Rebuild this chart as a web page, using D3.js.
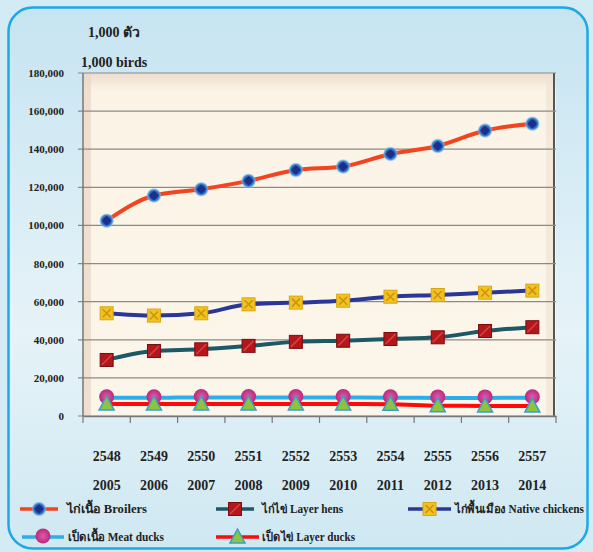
<!DOCTYPE html>
<html>
<head>
<meta charset="utf-8">
<script src="https://d3js.org/d3.v7.min.js"></script>
<style>
  body { margin: 0; background: #ffffff; }
  text { font-family: "Liberation Serif", "DejaVu Serif", serif; font-weight: bold; fill: #222; }
</style>
</head>
<body>
<script>
// data
var thaiYears = ["2548", "2549", "2550", "2551", "2552", "2553", "2554", "2555", "2556", "2557"];
var years = ["2005", "2006", "2007", "2008", "2009", "2010", "2011", "2012", "2013", "2014"];
var broilers = [102500, 115700, 119000, 123400, 129100, 130900, 137500, 141700, 149800, 153400];
var layerHens = [29400, 34100, 35000, 36800, 38900, 39500, 40400, 41300, 44600, 46600];
var nativeChickens = [53900, 52700, 53900, 58600, 59500, 60500, 62600, 63500, 64700, 65800];
var meatDucks = [9600, 9600, 9700, 9700, 9700, 9700, 9600, 9500, 9500, 9600];
var layerDucks = [6300, 6300, 6300, 6300, 6300, 6300, 6200, 5400, 5300, 5200];
var yTicks = [0, 20000, 40000, 60000, 80000, 100000, 120000, 140000, 160000, 180000];

var series = [
  {name: "ไก่เนื้อ   Broilers", values: broilers, color: "#f2441f", marker: "diamond"},
  {name: "ไก่ไข่ Layer hens", values: layerHens, color: "#1d5866", marker: "square"},
  {name: "ไก่พื้นเมือง Native chickens", values: nativeChickens, color: "#2b3796", marker: "ysquare"},
  {name: "เป็ดเนื้อ Meat ducks", values: meatDucks, color: "#2eaee6", marker: "circle"},
  {name: "เป็ดไข่ Layer ducks", values: layerDucks, color: "#ff0a0a", marker: "triangle"}
];

var W = 593, H = 552;
var plot = {left: 83, right: 556, top: 73, bottom: 416};

var svg = d3.select("body").append("svg").attr("width", W).attr("height", H);
var defs = svg.append("defs");

var bg = defs.append("linearGradient").attr("id", "bg").attr("x1", 0).attr("y1", 0).attr("x2", 0).attr("y2", 1);
bg.append("stop").attr("offset", "0").attr("stop-color", "#c6e4f1");
bg.append("stop").attr("offset", "0.6").attr("stop-color", "#e6f3f8");
bg.append("stop").attr("offset", "1").attr("stop-color", "#cfe8f2");

var pg = defs.append("linearGradient").attr("id", "pg").attr("x1", 0).attr("y1", 0).attr("x2", 0).attr("y2", 1);
pg.append("stop").attr("offset", "0").attr("stop-color", "#eddccd");
pg.append("stop").attr("offset", "0.05").attr("stop-color", "#fbf3e6");
pg.append("stop").attr("offset", "1").attr("stop-color", "#fcf6ea");

var glow = defs.append("radialGradient").attr("id", "glow");
glow.append("stop").attr("offset", "0.35").attr("stop-color", "#1a2f8f");
glow.append("stop").attr("offset", "0.75").attr("stop-color", "#3f8fd6");
glow.append("stop").attr("offset", "1").attr("stop-color", "#9fd2f2").attr("stop-opacity", 0.3);

var pink = defs.append("radialGradient").attr("id", "pink");
pink.append("stop").attr("offset", "0").attr("stop-color", "#e05aa8");
pink.append("stop").attr("offset", "1").attr("stop-color", "#b82a7c");

svg.append("rect").attr("width", W).attr("height", H).attr("fill", "#d3ebf5");
svg.append("rect")
    .attr("x", 8.5).attr("y", 7.5).attr("width", 579).attr("height", 541)
    .attr("rx", 24)
    .attr("fill", "url(#bg)")
    .attr("stroke", "#1ea8e6").attr("stroke-width", 2.5);

var x = d3.scaleBand().domain(years).range([plot.left, plot.right]);
var y = d3.scaleLinear().domain([0, 180000]).range([plot.bottom, plot.top]);

// plot area with bevel
svg.append("rect")
    .attr("x", plot.left).attr("y", plot.top)
    .attr("width", plot.right - plot.left).attr("height", plot.bottom - plot.top)
    .attr("fill", "url(#pg)");
svg.append("rect")
    .attr("x", plot.left).attr("y", plot.top)
    .attr("width", 8).attr("height", plot.bottom - plot.top)
    .attr("fill", "#e9d6c4").attr("opacity", 0.7);
svg.append("rect")
    .attr("x", plot.right - 10).attr("y", plot.top)
    .attr("width", 8).attr("height", plot.bottom - plot.top)
    .attr("fill", "#efe2d2").attr("opacity", 0.6);
svg.append("line")
    .attr("x1", plot.right - 2).attr("x2", plot.right - 2)
    .attr("y1", plot.top).attr("y2", plot.bottom)
    .attr("stroke", "#555").attr("stroke-width", 2);

// gridlines
svg.append("g").selectAll("line").data(yTicks).join("line")
    .attr("x1", plot.left - 5).attr("x2", plot.right)
    .attr("y1", d => y(d)).attr("y2", d => y(d))
    .attr("stroke", "#8a8a8a").attr("stroke-width", 1.2);

// y axis
svg.append("line")
    .attr("x1", plot.left).attr("x2", plot.left)
    .attr("y1", plot.top).attr("y2", plot.bottom)
    .attr("stroke", "#777").attr("stroke-width", 1.5);
svg.append("g").selectAll("text").data(yTicks).join("text")
    .attr("x", 64).attr("y", d => y(d) + 4)
    .attr("text-anchor", "end")
    .style("font-size", "11px")
    .text(d => d3.format(",")(d));

// x axis
var xAxis = d3.axisBottom(x).tickSize(0).tickFormat("");
var gx = svg.append("g").attr("transform", "translate(0," + plot.bottom + ")").call(xAxis);
gx.select(".domain").attr("stroke", "#777").attr("stroke-width", 1.5);
var bounds = years.map(d => x(d)).concat([plot.right]);
gx.selectAll(".bt").data(bounds).join("line")
    .attr("x1", d => d).attr("x2", d => d)
    .attr("y1", 0).attr("y2", 7)
    .attr("stroke", "#777").attr("stroke-width", 1.2);

svg.append("g").selectAll("text").data(thaiYears).join("text")
    .attr("x", (d, i) => x(years[i]) + x.bandwidth() / 2)
    .attr("y", 461)
    .attr("text-anchor", "middle")
    .style("font-size", "14px")
    .text(d => d);
svg.append("g").selectAll("text").data(years).join("text")
    .attr("x", d => x(d) + x.bandwidth() / 2)
    .attr("y", 490)
    .attr("text-anchor", "middle")
    .style("font-size", "14px")
    .text(d => d);

// unit labels
svg.append("text").attr("x", 88).attr("y", 37).style("font-size", "14px").text("1,000 ตัว");
svg.append("text").attr("x", 81).attr("y", 67).style("font-size", "14px").text("1,000 birds");

// markers
function drawMarker(g, type, cx, cy) {
  if (type === "diamond") {
    g.append("circle").attr("cx", cx).attr("cy", cy).attr("r", 7.5).attr("fill", "url(#glow)");
    g.append("path")
        .attr("d", d3.symbol(d3.symbolDiamond2, 60)())
        .attr("transform", "translate(" + cx + "," + cy + ")")
        .attr("fill", "#1b2f8c");
  } else if (type === "square") {
    g.append("rect").attr("x", cx - 6.5).attr("y", cy - 6.5).attr("width", 13).attr("height", 13)
        .attr("fill", "#b3171b").attr("stroke", "#7a0d10").attr("stroke-width", 1);
    g.append("path").attr("d", "M" + (cx - 5) + "," + (cy + 5) + "L" + (cx + 5) + "," + (cy - 5))
        .attr("stroke", "#d8423f").attr("stroke-width", 1.5);
  } else if (type === "ysquare") {
    g.append("rect").attr("x", cx - 6.5).attr("y", cy - 6.5).attr("width", 13).attr("height", 13)
        .attr("fill", "#f2c21e").attr("stroke", "#d9a514").attr("stroke-width", 1);
    g.append("path").attr("d", "M" + (cx - 4) + "," + (cy - 4) + "L" + (cx + 4) + "," + (cy + 4) +
        "M" + (cx + 4) + "," + (cy - 4) + "L" + (cx - 4) + "," + (cy + 4))
        .attr("stroke", "#c79410").attr("stroke-width", 1.5);
  } else if (type === "circle") {
    g.append("circle").attr("cx", cx).attr("cy", cy - 1).attr("r", 7.5).attr("fill", "url(#pink)");
  } else if (type === "triangle") {
    g.append("path")
        .attr("d", "M" + cx + "," + (cy - 8) + "L" + (cx + 7.5) + "," + (cy + 6) + "L" + (cx - 7.5) + "," + (cy + 6) + "Z")
        .attr("fill", "#8cc43f").attr("stroke", "#35a0cf").attr("stroke-width", 1.5);
  }
}

var line = d3.line()
    .x((d, i) => x(years[i]) + x.bandwidth() / 2)
    .y(d => y(d))
    .curve(d3.curveMonotoneX);

// draw duck series first (under), then chickens
var order = [3, 4, 1, 2, 0];
order.forEach(function(k) {
  var s = series[k];
  svg.append("path").datum(s.values)
      .attr("d", line)
      .attr("fill", "none")
      .attr("stroke", s.color)
      .attr("stroke-width", 4);
});
order.forEach(function(k) {
  var s = series[k];
  var g = svg.append("g");
  s.values.forEach(function(v, i) {
    drawMarker(g, s.marker, x(years[i]) + x.bandwidth() / 2, y(v));
  });
});

// legend
var legendPos = [
  {x1: 20, x2: 58, tx: 67, tw: 80, y: 509},
  {x1: 216, x2: 254, tx: 262, tw: 81, y: 509},
  {x1: 408, x2: 451, tx: 455, tw: 129, y: 509},
  {x1: 22, x2: 64, tx: 68, tw: 96, y: 537},
  {x1: 216, x2: 259, tx: 262, tw: 93, y: 537}
];
series.forEach(function(s, k) {
  var p = legendPos[k];
  var g = svg.append("g");
  g.append("line").attr("x1", p.x1).attr("x2", p.x2).attr("y1", p.y).attr("y2", p.y)
      .attr("stroke", s.color).attr("stroke-width", 3.5);
  drawMarker(g, s.marker, (p.x1 + p.x2) / 2, p.y);
  g.append("text").attr("x", p.tx).attr("y", p.y + 4)
      .attr("textLength", p.tw).attr("lengthAdjust", "spacingAndGlyphs")
      .style("font-size", "12px").text(s.name);
});
</script>
</body>
</html>
